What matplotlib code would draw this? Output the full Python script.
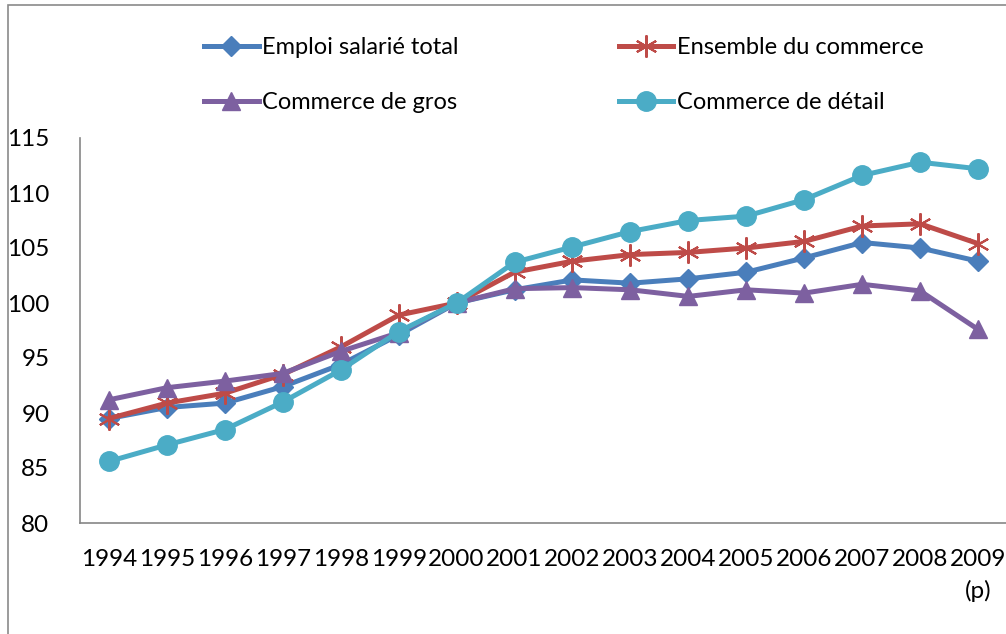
import matplotlib.pyplot as plt
from matplotlib.patches import Rectangle

plt.rcParams['font.family'] = ['Lato', 'DejaVu Sans']

years = ['1994', '1995', '1996', '1997', '1998', '1999', '2000', '2001',
         '2002', '2003', '2004', '2005', '2006', '2007', '2008', '2009\n(p)']

emploi = [89.5, 90.5, 90.9, 92.4, 94.4, 97.1, 100.0, 101.2,
          102.1, 101.8, 102.2, 102.8, 104.1, 105.5, 105.0, 103.8]
ensemble = [89.5, 90.9, 91.8, 93.5, 96.0, 98.9, 100.0, 102.8,
            103.8, 104.4, 104.6, 105.0, 105.6, 107.0, 107.2, 105.4]
gros = [91.2, 92.3, 92.9, 93.6, 95.6, 97.3, 100.0, 101.3,
        101.4, 101.2, 100.6, 101.2, 100.9, 101.7, 101.1, 97.6]
detail = [85.6, 87.1, 88.5, 91.0, 93.9, 97.4, 100.0, 103.7,
          105.1, 106.5, 107.5, 107.9, 109.4, 111.6, 112.8, 112.2]

fig = plt.figure(figsize=(10.06, 6.34), dpi=100)
ax = fig.add_axes([80/1006, 111/634, 927/1006, 385/634])

x = range(len(years))
l1, = ax.plot(x, emploi, color='#4A7EBB', lw=3.6, marker='D', ms=10,
              label='Emploi salarié total')
l2, = ax.plot(x, ensemble, color='#BE4B48', lw=3.6, marker=(6, 2, 0), ms=16,
              mew=1.5, label='Ensemble du commerce')
l3, = ax.plot(x, gros, color='#7D60A0', lw=3.6, marker='^', ms=13,
              label='Commerce de gros')
l4, = ax.plot(x, detail, color='#4BACC6', lw=3.6, marker='o', ms=14,
              label='Commerce de détail')

ax.set_xlim(-0.5, 15.5)
ax.set_ylim(80, 115)
ax.set_yticks(range(80, 116, 5))
ax.set_xticks(list(x))
ax.set_xticklabels(years, linespacing=1.55)
ax.tick_params(axis='both', length=0, labelsize=17.5)
ax.tick_params(axis='y', pad=22)
ax.tick_params(axis='x', pad=19)
for s in ['top', 'right']:
    ax.spines[s].set_visible(False)
for s in ['left', 'bottom']:
    ax.spines[s].set_color('#868686')
    ax.spines[s].set_linewidth(1.2)

fig.legend([l1, l3, l2, l4], [h.get_label() for h in [l1, l3, l2, l4]],
           ncol=2, loc='upper left', bbox_to_anchor=(183/1006, 1 - 16/634),
           frameon=False, fontsize=17, handlelength=2.3, handletextpad=0.15,
           labelspacing=1.45, columnspacing=6.8)

fig.patches.append(Rectangle((8/1006, -0.1), 1.2, 1 - 5/634 + 0.1,
                             transform=fig.transFigure, fill=False,
                             edgecolor='#8a8a8a', lw=1.2))

fig.savefig('out.png', dpi=100)
